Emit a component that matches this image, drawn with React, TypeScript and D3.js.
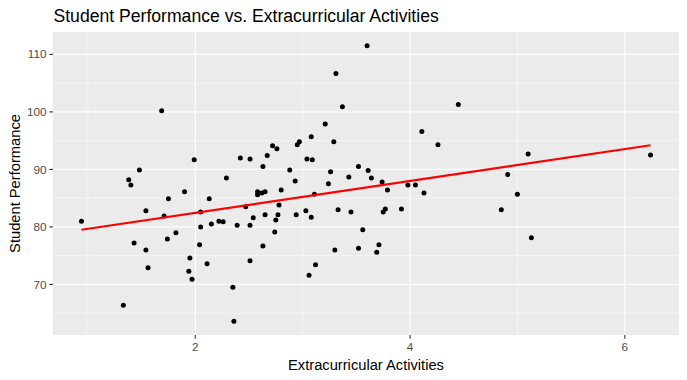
import React from "react";
import * as d3 from "d3";

const activities = [
  0.94, 1.33, 1.38, 1.40, 1.43, 1.48, 1.54, 1.54, 1.56, 1.687, 1.71, 1.74, 1.75, 1.82, 1.90, 1.94, 1.95, 1.97, 1.99, 2.04,
  2.05, 2.05, 2.11, 2.13, 2.15, 2.22, 2.26, 2.29, 2.35, 2.36, 2.39, 2.42, 2.47, 2.51, 2.51, 2.51, 2.54, 2.58, 2.58, 2.62,
  2.65, 2.63, 2.63, 2.65, 2.67, 2.72, 2.74, 2.75, 2.76, 2.77, 2.78, 2.80, 2.88, 2.93, 2.94, 2.95, 2.97, 3.03, 3.04, 3.06,
  3.08, 3.08, 3.09, 3.11, 3.12, 3.21, 3.24, 3.26, 3.29, 3.30, 3.31, 3.33, 3.37, 3.43, 3.45, 3.52, 3.52, 3.56, 3.60, 3.61,
  3.64, 3.69, 3.71, 3.74, 3.75, 3.77, 3.79, 3.92, 3.98, 4.05, 4.11, 4.13, 4.26, 4.45, 4.85, 4.91, 5.00, 5.10, 5.13, 6.24,
];
const performance = [
  81.0, 66.4, 88.2, 87.3, 77.2, 89.9, 82.8, 76.0, 72.9, 100.2, 81.9, 77.9, 84.9, 79.0, 86.1, 72.3, 74.6, 70.9, 91.7, 76.9,
  82.6, 80.0, 73.6, 84.9, 80.5, 81.0, 80.9, 88.5, 69.5, 63.6, 80.3, 92.0, 83.5, 91.8, 80.3, 74.1, 81.6, 86.1, 85.6, 85.9,
  86.1, 90.5, 76.7, 82.1, 92.4, 94.1, 79.1, 81.2, 93.6, 82.1, 83.8, 86.4, 89.9, 88.0, 82.1, 94.3, 94.8, 82.8, 91.8, 71.6,
  95.7, 81.7, 91.7, 85.7, 73.4, 97.9, 87.5, 89.6, 94.8, 76.0, 106.7, 83.0, 100.9, 88.7, 82.6, 90.5, 76.3, 79.5, 111.5, 89.8,
  88.5, 75.6, 76.9, 87.8, 82.6, 83.1, 86.4, 83.1, 87.3, 87.3, 96.6, 85.9, 94.3, 101.3, 83.0, 89.1, 85.7, 92.7, 78.1, 92.5,
];
const fitX = [0.94, 6.24];
const fitY = [79.5, 94.2];

const xMajor = [2, 4, 6];
const xMinor = [1, 3, 5];
const yMajor = [70, 80, 90, 100, 110];
const yMinor = [65, 75, 85, 95, 105];

const W = 687;
const H = 380;
const panel = { left: 53, right: 679, top: 32, bottom: 335 };
const FONT = "'Liberation Sans', Arial, Helvetica, sans-serif";

export default function App() {
  const xExt = d3.extent(activities) as [number, number];
  const yExt = d3.extent(performance) as [number, number];
  const xPad = (xExt[1] - xExt[0]) * 0.05;
  const yPad = (yExt[1] - yExt[0]) * 0.05;
  const x = d3.scaleLinear().domain([xExt[0] - xPad, xExt[1] + xPad]).range([panel.left, panel.right]);
  const y = d3.scaleLinear().domain([yExt[0] - yPad, yExt[1] + yPad]).range([panel.bottom, panel.top]);

  const pts = activities.map((a, i) => ({ a, p: performance[i] }));
  const fit = fitX.map((fx, i) => [fx, fitY[i]] as [number, number]);
  const line = d3.line<[number, number]>().x((d) => x(d[0])).y((d) => y(d[1]));

  return (
    <svg width={W} height={H} style={{ position: "absolute", left: 0, top: 0, background: "#fff" }}>
      <rect x={0} y={0} width={W} height={H} fill="#fff" />
      <rect x={panel.left} y={panel.top} width={panel.right - panel.left} height={panel.bottom - panel.top} fill="#EBEBEB" />
      {xMinor.map((v) => (
        <line key={"xm" + v} x1={x(v)} x2={x(v)} y1={panel.top} y2={panel.bottom} stroke="#fff" strokeWidth={0.55} />
      ))}
      {yMinor.map((v) => (
        <line key={"ym" + v} x1={panel.left} x2={panel.right} y1={y(v)} y2={y(v)} stroke="#fff" strokeWidth={0.55} />
      ))}
      {xMajor.map((v) => (
        <line key={"xM" + v} x1={x(v)} x2={x(v)} y1={panel.top} y2={panel.bottom} stroke="#fff" strokeWidth={1.1} />
      ))}
      {yMajor.map((v) => (
        <line key={"yM" + v} x1={panel.left} x2={panel.right} y1={y(v)} y2={y(v)} stroke="#fff" strokeWidth={1.1} />
      ))}
      {pts.map((d, i) => (
        <circle key={i} cx={x(d.a)} cy={y(d.p)} r={2.5} fill="#000" />
      ))}
      <path d={line(fit) || ""} fill="none" stroke="#FF0000" strokeWidth={2.1} />
      {/* axes ticks */}
      {xMajor.map((v) => (
        <g key={"xt" + v}>
          <line x1={x(v)} x2={x(v)} y1={panel.bottom} y2={panel.bottom + 3.7} stroke="#333" strokeWidth={1.1} />
          <text x={x(v)} y={351} textAnchor="middle" fontFamily={FONT} fontSize={11.7} fill="#4D4D4D">
            {v}
          </text>
        </g>
      ))}
      {yMajor.map((v) => (
        <g key={"yt" + v}>
          <line x1={panel.left - 3.7} x2={panel.left} y1={y(v)} y2={y(v)} stroke="#333" strokeWidth={1.1} />
          <text x={46.4} y={y(v)} dy="0.35em" textAnchor="end" fontFamily={FONT} fontSize={11.7} fill="#4D4D4D">
            {v}
          </text>
        </g>
      ))}
      <text x={(panel.left + panel.right) / 2} y={370} textAnchor="middle" fontFamily={FONT} fontSize={14.7} fill="#000">
        Extracurricular Activities
      </text>
      <text
        transform={`translate(20, ${(panel.top + panel.bottom) / 2}) rotate(-90)`}
        textAnchor="middle"
        fontFamily={FONT}
        fontSize={14.7}
        fill="#000"
      >
        Student Performance
      </text>
      <text x={53.5} y={22} fontFamily={FONT} fontSize={17.6} fill="#000">
        Student Performance vs. Extracurricular Activities
      </text>
    </svg>
  );
}
